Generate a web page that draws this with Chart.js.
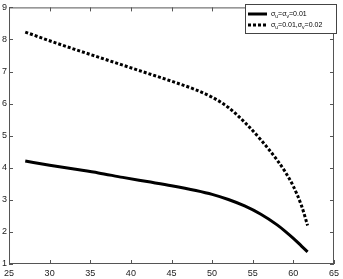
<!DOCTYPE html>
<html>
<head>
<meta charset="utf-8">
<script src="https://cdn.jsdelivr.net/npm/chart.js@4.4.1/dist/chart.umd.min.js"></script>
<style>
  html, body { margin: 0; padding: 0; background: #fff; }
  #wrap { width: 343px; height: 279px; }
</style>
</head>
<body>
<div id="wrap"><canvas id="sigmaChart"></canvas></div>
<script>
// x values and the two curves
const xVals = [27, 30, 33, 36, 39, 42, 45, 48, 50, 52, 54, 56, 58, 59, 60, 61, 61.75];
const sameSigma = [4.21, 4.08, 3.96, 3.84, 3.7, 3.57, 3.44, 3.29, 3.17, 3.01, 2.81, 2.55, 2.22, 2.02, 1.8, 1.56, 1.38];
const diffSigma = [8.23, 7.96, 7.7, 7.45, 7.2, 6.95, 6.7, 6.43, 6.2, 5.88, 5.42, 4.87, 4.24, 3.87, 3.42, 2.82, 2.2];
const xTicks = [25, 30, 35, 40, 45, 50, 55, 60, 65];
const yTicks = [1, 2, 3, 4, 5, 6, 7, 8, 9];

const toPts = ys => xVals.map((x, i) => ({ x: x, y: ys[i] }));

// matlab style box with inward ticks on all four sides + legend
const boxTicks = {
  id: 'boxTicks',
  afterDraw(chart) {
    const ctx = chart.ctx, a = chart.chartArea;
    const sx = chart.scales.x, sy = chart.scales.y;
    ctx.save();
    ctx.strokeStyle = '#555';
    ctx.lineWidth = 1;
    ctx.strokeRect(a.left + 0.5, a.top + 0.5, a.right - a.left - 1, a.bottom - a.top - 1);
    ctx.beginPath();
    xTicks.forEach(v => {
      const p = Math.round(sx.getPixelForValue(v)) + 0.5;
      ctx.moveTo(p, a.bottom); ctx.lineTo(p, a.bottom - 4);
      ctx.moveTo(p, a.top); ctx.lineTo(p, a.top + 4);
    });
    yTicks.forEach(v => {
      const p = Math.round(sy.getPixelForValue(v)) + 0.5;
      ctx.moveTo(a.left, p); ctx.lineTo(a.left + 4, p);
      ctx.moveTo(a.right, p); ctx.lineTo(a.right - 4, p);
    });
    ctx.stroke();

    // legend box top right
    const lx = 245, ly = 4, lw = 91, lh = 29;
    ctx.fillStyle = '#fff';
    ctx.fillRect(lx, ly, lw, lh);
    ctx.strokeStyle = '#444';
    ctx.strokeRect(lx + 0.5, ly + 0.5, lw, lh);
    ctx.strokeStyle = '#000';
    ctx.lineWidth = 3;
    ctx.beginPath(); ctx.moveTo(lx + 3, ly + 10); ctx.lineTo(lx + 22, ly + 10); ctx.stroke();
    ctx.setLineDash([3, 2]);
    ctx.beginPath(); ctx.moveTo(lx + 3, ly + 21); ctx.lineTo(lx + 23, ly + 21); ctx.stroke();
    ctx.setLineDash([]);

    ctx.fillStyle = '#000';
    ctx.textBaseline = 'alphabetic';
    const drawLabel = (parts, x, y) => {
      parts.forEach(p => {
        if (p.sub) {
          ctx.font = '5px "Liberation Sans", Arial, sans-serif';
          ctx.fillText(p.t, x, y + 2);
        } else {
          ctx.font = '7px "Liberation Sans", Arial, sans-serif';
          ctx.fillText(p.t, x, y);
        }
        x += ctx.measureText(p.t).width;
      });
    };
    drawLabel([{ t: 'σ' }, { t: 'u', sub: true }, { t: '=σ' }, { t: 'v', sub: true }, { t: '=0.01' }], lx + 26, ly + 12);
    drawLabel([{ t: 'σ' }, { t: 'u', sub: true }, { t: '=0.01,σ' }, { t: 'v', sub: true }, { t: '=0.02' }], lx + 26, ly + 23);
    ctx.restore();
  }
};

const ctx1 = document.getElementById('sigmaChart');
const sigmaChart = new Chart(ctx1, {
  type: 'line',
  data: {
    datasets: [{
      label: 'σu=σv=0.01',
      data: toPts(sameSigma),
      borderColor: '#000',
      borderWidth: 3,
      pointRadius: 0,
      cubicInterpolationMode: 'monotone',
      fill: false
    },
    {
      label: 'σu=0.01,σv=0.02',
      data: toPts(diffSigma),
      borderColor: '#000',
      borderWidth: 3,
      borderDash: [3, 2],
      pointRadius: 0,
      cubicInterpolationMode: 'monotone',
      fill: false
    }]
  },
  options: {
    responsive: true,
    maintainAspectRatio: false,
    animation: false,
    layout: { padding: { top: 3, right: 3, left: 0, bottom: 0 } },
    plugins: {
      legend: { display: false },
      tooltip: { enabled: false }
    },
    scales: {
      x: {
        type: 'linear',
        min: 25, max: 65,
        afterFit(s) { s.height = 15; },
        afterBuildTicks(s) { s.ticks = xTicks.map(v => ({ value: v })); },
        grid: { display: false, drawTicks: false },
        border: { display: false },
        ticks: { padding: 4, color: '#222', font: { size: 9, family: '"Liberation Sans", Arial, sans-serif' } }
      },
      y: {
        min: 1, max: 9,
        afterFit(s) { s.width = 8; },
        afterBuildTicks(s) { s.ticks = yTicks.map(v => ({ value: v })); },
        grid: { display: false, drawTicks: false },
        border: { display: false },
        ticks: { padding: 2, color: '#222', font: { size: 9, family: '"Liberation Sans", Arial, sans-serif' } }
      }
    }
  },
  plugins: [boxTicks]
});
</script>
</body>
</html>
